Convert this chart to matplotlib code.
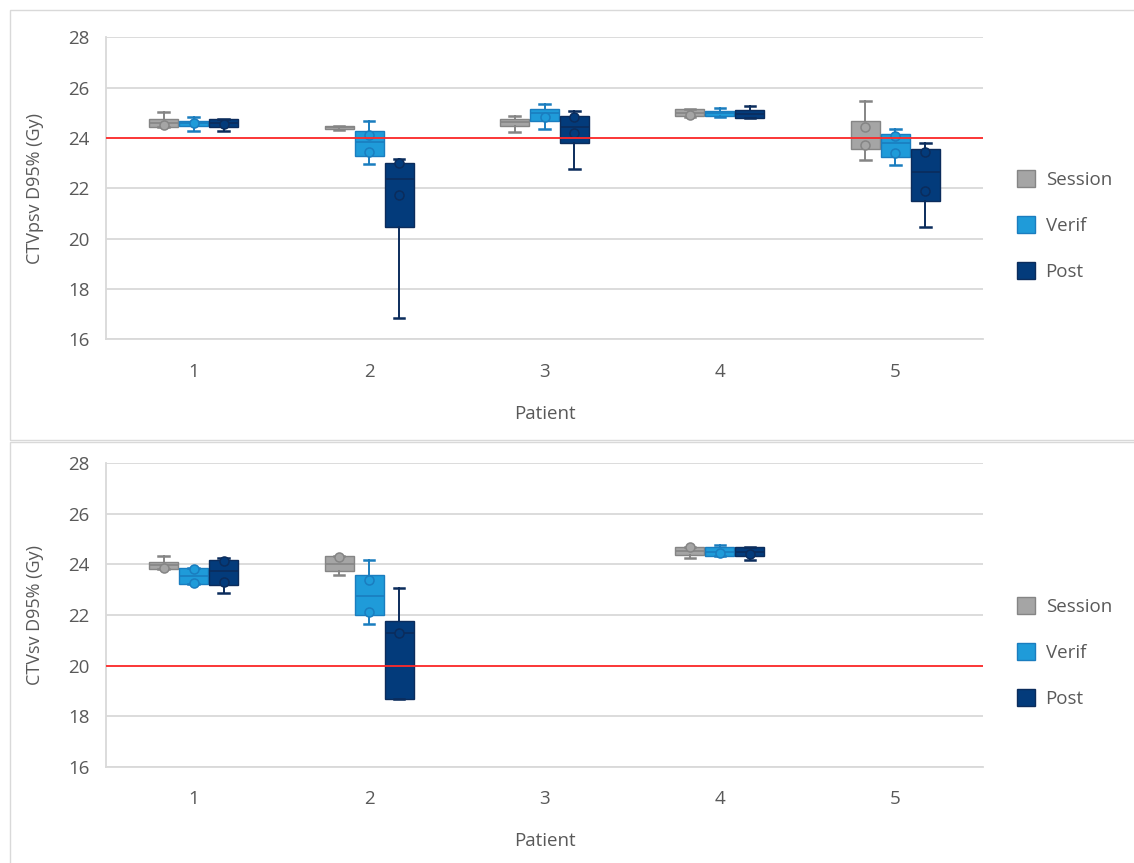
import numpy as np
import matplotlib
matplotlib.use("Agg")
import matplotlib.pyplot as plt
from matplotlib.patches import Patch, Rectangle

plt.rcParams['font.family'] = ['Open Sans', 'DejaVu Sans']

patients = [1, 2, 3, 4, 5]
series_names = ["Session", "Verif", "Post"]
nan = np.nan

# ---- CTVpsv D95% (Gy) ----
psv_session_whislo = [24.45, 24.32, 24.23, 24.85, 23.13]
psv_session_q1     = [24.45, 24.34, 24.48, 24.86, 23.55]
psv_session_med    = [24.61, 24.42, 24.63, 25.00, 24.00]
psv_session_q3     = [24.76, 24.48, 24.75, 25.15, 24.68]
psv_session_whishi = [25.05, 24.49, 24.88, 25.15, 25.47]
psv_session_pts    = [[24.52], [], [], [24.92], [24.43, 23.72]]

psv_verif_whislo = [24.28, 22.97, 24.36, 24.85, 22.94]
psv_verif_q1     = [24.48, 23.29, 24.68, 24.86, 23.26]
psv_verif_med    = [24.59, 23.86, 24.98, 24.98, 23.80]
psv_verif_q3     = [24.69, 24.28, 25.17, 25.08, 24.16]
psv_verif_whishi = [24.85, 24.69, 25.35, 25.21, 24.37]
psv_verif_pts    = [[24.59], [24.12, 23.45], [24.83], [], [24.10, 23.42]]

psv_post_whislo = [24.27, 16.86, 22.79, 24.79, 20.46]
psv_post_q1     = [24.43, 20.48, 23.79, 24.79, 21.51]
psv_post_med    = [24.60, 22.37, 24.45, 24.95, 22.67]
psv_post_q3     = [24.75, 23.02, 24.89, 25.10, 23.55]
psv_post_whishi = [24.75, 23.16, 25.09, 25.29, 23.79]
psv_post_pts    = [[24.55], [23.00, 21.73], [24.83, 24.19], [], [23.43, 21.89]]

# ---- CTVsv D95% (Gy) ----
sv_session_whislo = [23.82, 23.58, nan, 24.27, nan]
sv_session_q1     = [23.82, 23.74, nan, 24.39, nan]
sv_session_med    = [23.96, 24.00, nan, 24.55, nan]
sv_session_q3     = [24.09, 24.32, nan, 24.69, nan]
sv_session_whishi = [24.32, 24.32, nan, 24.69, nan]
sv_session_pts    = [[23.85], [24.30], [], [24.67], []]

sv_verif_whislo = [23.24, 21.64, nan, 24.35, nan]
sv_verif_q1     = [23.24, 22.00, nan, 24.35, nan]
sv_verif_med    = [23.54, 22.75, nan, 24.50, nan]
sv_verif_q3     = [23.86, 23.59, nan, 24.67, nan]
sv_verif_whishi = [23.86, 24.19, nan, 24.75, nan]
sv_verif_pts    = [[23.82, 23.27], [23.37, 22.11], [], [24.47], []]

sv_post_whislo = [22.88, 18.67, nan, 24.19, nan]
sv_post_q1     = [23.17, 18.67, nan, 24.32, nan]
sv_post_med    = [23.74, 21.29, nan, 24.50, nan]
sv_post_q3     = [24.17, 21.75, nan, 24.69, nan]
sv_post_whishi = [24.27, 23.07, nan, 24.69, nan]
sv_post_pts    = [[24.13, 23.32], [21.30], [], [24.42], []]

psv_threshold = 24
sv_threshold = 20
y_ticks = [16, 18, 20, 22, 24, 26, 28]

fills = ["#A5A5A5", "#1F9BD9", "#033B7B"]
edges = ["#858585", "#1A7DBF", "#0B2C5C"]
text_col = "#595959"
grid_col = "#D9D9D9"

W, H = 1134, 863
fig = plt.figure(figsize=(W / 100, H / 100), dpi=100)

# outer chart-area frames
for (top, bot) in [(10, 440), (442, 880)]:
    fig.add_artist(Rectangle((10 / W, 1 - bot / H), 1.2, (bot - top) / H,
                             transform=fig.transFigure, fill=False,
                             ec=grid_col, lw=1.0))


def panel(ax, series, threshold, ylabel):
    offsets = [-0.171, 0.0, 0.171]
    for k, (wl, q1, md, q3, wh, pts) in enumerate(series):
        stats, pos = [], []
        for i, p in enumerate(patients):
            if np.isnan(md[i]):
                continue
            stats.append(dict(whislo=wl[i], q1=q1[i], med=md[i], q3=q3[i],
                              whishi=wh[i], fliers=[]))
            pos.append(p + offsets[k])
        ax.bxp(stats, positions=pos, widths=0.165, patch_artist=True,
               showfliers=False, capwidths=0.06,
               boxprops=dict(facecolor=fills[k], edgecolor=edges[k], linewidth=1.0),
               medianprops=dict(color=edges[k], linewidth=1.2),
               whiskerprops=dict(color=edges[k], linewidth=1.4),
               capprops=dict(color=edges[k], linewidth=1.8),
               manage_ticks=False, zorder=3)
        for i, p in enumerate(patients):
            if pts[i]:
                ax.plot([p + offsets[k]] * len(pts[i]), pts[i], 'o', ms=6.5,
                        mfc=fills[k], mec=edges[k], mew=1.1, zorder=4)
    ax.axhline(threshold, color="#FF2A2A", lw=1.3, zorder=5)
    ax.set_xlim(0.5, 5.5)
    ax.set_ylim(16, 28)
    ax.set_yticks(y_ticks)
    ax.set_xticks(patients)
    ax.set_xticklabels([str(p) for p in patients])
    ax.grid(axis='y', color=grid_col, lw=1.3, zorder=0)
    ax.set_axisbelow(True)
    for s in ["top", "right"]:
        ax.spines[s].set_visible(False)
    for s in ["left", "bottom"]:
        ax.spines[s].set_color(grid_col)
        ax.spines[s].set_linewidth(1.3)
    ax.tick_params(axis='both', length=0, labelsize=13.5, colors=text_col)
    ax.tick_params(axis='y', pad=12)
    ax.tick_params(axis='x', pad=17)
    ax.set_xlabel("Patient", fontsize=13.5, color=text_col, labelpad=17)
    ax.set_ylabel(ylabel, fontsize=13, color=text_col, labelpad=17)
    handles = [Patch(facecolor=fills[k], edgecolor=edges[k], label=series_names[k])
               for k in range(3)]
    ax.legend(handles=handles, loc='center left', bbox_to_anchor=(1.019, 0.377),
              frameon=False, fontsize=13.5, handlelength=1.0, handleheight=1.0,
              handletextpad=0.55, labelspacing=1.45, labelcolor=text_col)


ax1 = fig.add_axes([106 / W, 1 - 339.5 / H, 877 / W, 302.2 / H])
ax2 = fig.add_axes([106 / W, 1 - 766.7 / H, 877 / W, 303.4 / H])

panel(ax1, [
    (psv_session_whislo, psv_session_q1, psv_session_med, psv_session_q3, psv_session_whishi, psv_session_pts),
    (psv_verif_whislo, psv_verif_q1, psv_verif_med, psv_verif_q3, psv_verif_whishi, psv_verif_pts),
    (psv_post_whislo, psv_post_q1, psv_post_med, psv_post_q3, psv_post_whishi, psv_post_pts),
], psv_threshold, "CTVpsv D95% (Gy)")

panel(ax2, [
    (sv_session_whislo, sv_session_q1, sv_session_med, sv_session_q3, sv_session_whishi, sv_session_pts),
    (sv_verif_whislo, sv_verif_q1, sv_verif_med, sv_verif_q3, sv_verif_whishi, sv_verif_pts),
    (sv_post_whislo, sv_post_q1, sv_post_med, sv_post_q3, sv_post_whishi, sv_post_pts),
], sv_threshold, "CTVsv D95% (Gy)")

fig.savefig("out.png", dpi=100, facecolor="white")
